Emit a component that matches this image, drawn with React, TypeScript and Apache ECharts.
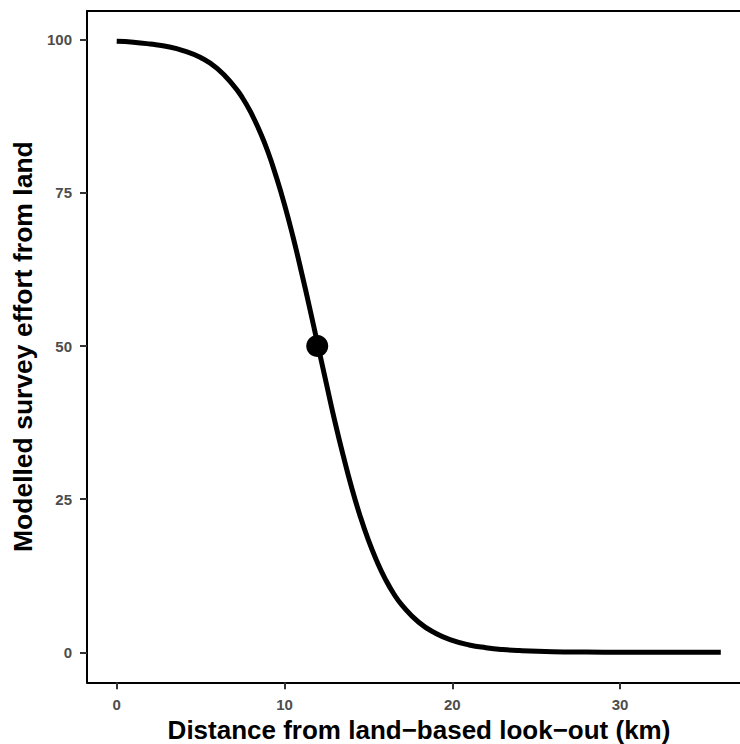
import React, { useEffect, useRef } from "react";
import * as echarts from "echarts";

const distanceKm = [0, 1, 2, 3, 4, 5, 6, 7, 7.5, 8, 8.5, 9, 9.5, 10, 10.5, 11, 11.5, 12, 12.5, 13, 13.5, 14, 14.5, 15, 15.5, 16, 16.5, 17, 18, 19, 20, 21, 22, 23, 24, 26, 28, 30, 33, 36];
const effort = [99.75, 99.6, 99.3, 98.9, 98.2, 97.1, 95.3, 92.4, 90.5, 88.1, 85.2, 81.8, 77.7, 73.1, 67.9, 62.2, 56.2, 50, 43.8, 37.7, 32.1, 26.9, 22.3, 18.3, 14.9, 12.0, 9.6, 7.7, 4.9, 3.1, 1.95, 1.2, 0.75, 0.45, 0.28, 0.1, 0.04, 0.01, 0, 0];
const midPoint = [[11.95, 50]];
const xTicks = [0, 10, 20, 30];
const yTicks = [0, 25, 50, 75, 100];
const xTitle = "Distance from land\u2212based look\u2212out (km)";
const yTitle = "Modelled survey effort from land";

const FONT = "'Liberation Sans', Arial, Helvetica, sans-serif";

export default function App() {
  const ref = useRef<HTMLDivElement>(null);
  useEffect(() => {
    if (!ref.current) return;
    const chart = echarts.init(ref.current, undefined, { renderer: "svg" });
    const tickLabel = { color: "#4d4d4d", fontSize: 15, fontWeight: "bold" as const, fontFamily: FONT };
    chart.setOption({
      animation: false,
      backgroundColor: "#ffffff",
      grid: { left: 87, top: 11, width: 664, height: 671.3, containLabel: false, outerBoundsMode: "none" },
      xAxis: [
        {
          type: "value",
          min: -1.77,
          max: 37.8,
          position: "bottom",
          name: xTitle,
          nameLocation: "middle",
          nameGap: 32,
          nameTextStyle: { color: "#000", fontSize: 26, lineHeight: 26, fontWeight: "bold", fontFamily: FONT },
          axisLine: { show: true, onZero: false, lineStyle: { color: "#000", width: 2 } },
          axisTick: { show: true, length: 7, customValues: xTicks, lineStyle: { color: "#333", width: 2 } },
          axisLabel: { ...tickLabel, margin: 15, customValues: xTicks },
          splitLine: { show: false },
        },
        {
          type: "value",
          min: -1.77,
          max: 37.8,
          position: "top",
          axisLine: { show: true, onZero: false, lineStyle: { color: "#000", width: 2 } },
          axisTick: { show: false },
          axisLabel: { show: false },
          splitLine: { show: false },
        },
      ],
      yAxis: {
        type: "value",
        min: -4.9,
        max: 104.7,
        name: yTitle,
        nameLocation: "middle",
        nameGap: 51,
        nameTextStyle: { color: "#000", fontSize: 26.5, fontWeight: "bold", fontFamily: FONT },
        axisLine: { show: true, onZero: false, lineStyle: { color: "#000", width: 2 } },
        axisTick: { show: true, length: 7, customValues: yTicks, lineStyle: { color: "#333", width: 2 } },
        axisLabel: { ...tickLabel, margin: 15, customValues: yTicks },
        splitLine: { show: false },
      },
      series: [
        {
          type: "line",
          xAxisIndex: 0,
          data: distanceKm.map((x, i) => [x, effort[i]]),
          smooth: true,
          showSymbol: false,
          lineStyle: { color: "#000", width: 5 },
          z: 2,
        },
        {
          type: "scatter",
          xAxisIndex: 0,
          data: midPoint,
          symbol: "circle",
          symbolSize: 22,
          itemStyle: { color: "#000", opacity: 1 },
          z: 3,
        },
      ],
    });
    return () => chart.dispose();
  }, []);
  return (
    <div
      ref={ref}
      style={{ position: "absolute", left: 0, top: 0, width: 740, height: 744, overflow: "hidden", background: "#fff" }}
    />
  );
}
